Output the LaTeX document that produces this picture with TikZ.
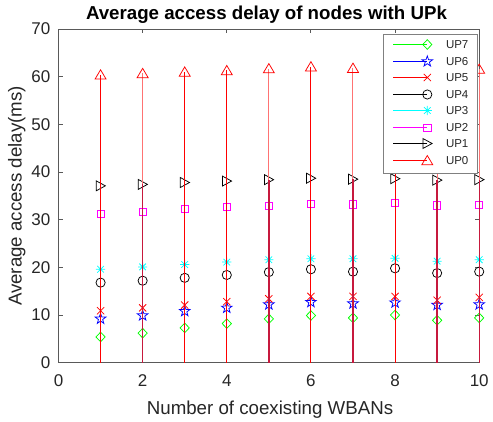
\documentclass[tikz,border=0pt]{standalone}
\usepackage{fontspec}
\setmainfont{Liberation Sans}
\definecolor{colUPseven}{rgb}{0,1,0}
\definecolor{colUPsix}{rgb}{0,0,1}
\definecolor{colUPfive}{rgb}{1,0,0}
\definecolor{colUPfour}{rgb}{0,0,0}
\definecolor{colUPthree}{rgb}{0,1,1}
\definecolor{colUPtwo}{rgb}{1,0,1}
\definecolor{colUPone}{rgb}{0,0,0}
\definecolor{colUPzero}{rgb}{1,0,0}
\definecolor{axc}{rgb}{0.15,0.15,0.15}
\definecolor{axl}{rgb}{0.35,0.35,0.35}
\definecolor{darkstem}{rgb}{0.78,0.1,0.24}
\definecolor{lightstem}{rgb}{1,0.45,0.45}
\definecolor{legedge}{rgb}{0.5,0.5,0.5}
\tikzset{
  stem/.style={line width=1pt},
  mk/.style={line width=0.75pt},
  axline/.style={axl, line width=0.9pt},
  ticklab/.style={axc, inner sep=0pt, font=\fontsize{17}{17}\selectfont},
  leglab/.style={axc, inner sep=0pt, anchor=west, font=\fontsize{11.5}{12}\selectfont},
  pics/m7/.style={code={\draw[mk,draw=colUPseven] (0pt,4.8pt)--(4.6pt,0pt)--(0pt,-4.8pt)--(-4.6pt,0pt)--cycle;}},
  pics/m6/.style={code={\draw[mk,draw=colUPsix,line join=miter] (90:5.6pt)--(126:2.2pt)--(162:5.6pt)--(198:2.2pt)--(234:5.6pt)--(270:2.2pt)--(306:5.6pt)--(342:2.2pt)--(18:5.6pt)--(54:2.2pt)--cycle;}},
  pics/m5/.style={code={\draw[mk,draw=colUPfive] (-3.6pt,-3.6pt)--(3.6pt,3.6pt) (-3.6pt,3.6pt)--(3.6pt,-3.6pt);}},
  pics/m4/.style={code={\draw[mk,draw=colUPfour] (0pt,0pt) circle[radius=4.6pt];}},
  pics/m3/.style={code={\draw[mk,draw=colUPthree] (-4.6pt,0pt)--(4.6pt,0pt) (0pt,-4.6pt)--(0pt,4.6pt) (-3.3pt,-3.3pt)--(3.3pt,3.3pt) (-3.3pt,3.3pt)--(3.3pt,-3.3pt);}},
  pics/m2/.style={code={\draw[mk,draw=colUPtwo] (-3.6pt,-3.6pt) rectangle (3.6pt,3.6pt);}},
  pics/m1/.style={code={\draw[mk,draw=colUPone] (-4.4pt,5pt)--(4.8pt,0pt)--(-4.4pt,-5pt)--cycle;}},
  pics/m0/.style={code={\draw[mk,draw=colUPzero] (-5.5pt,-4.3pt)--(5.5pt,-4.3pt)--(0pt,5pt)--cycle;}},
}
\begin{document}
\begin{tikzpicture}[x=1pt,y=1pt]
\useasboundingbox (0,0) rectangle (493,421);
\fill[white] (0,0) rectangle (493,421);
\begin{scope}[shift={(58.5pt,58.3pt)}, x=42.07pt, y=4.767pt]
  % axes box and ticks
  \draw[axline] (0,0) rectangle (10,70);
  \foreach \xx in {0,2,...,10} {
    \draw[axline] (\xx,0) -- ++(0,4.2pt);
    \draw[axline] (\xx,70) -- ++(0,-4.2pt);
    \node[ticklab, anchor=base] at ([yshift=-24pt]\xx,0) {\xx};
  }
  \foreach \yy in {0,10,...,70} {
    \draw[axline] (0,\yy) -- ++(4.2pt,0);
    \draw[axline] (10,\yy) -- ++(-4.2pt,0);
    \node[ticklab, anchor=east] at ([xshift=-8pt]0,\yy) {\yy};
  }
  % markers of the lower series
  \foreach \v [count=\i] in {5.4,6.2,7.3,8.2,9.2,9.9,9.4,10.0,8.9,9.4}
    {\pic at (\i,\v) {m7};}
  \foreach \v [count=\i] in {9.2,9.9,10.8,11.5,12.2,12.7,12.4,12.6,12.1,12.2}
    {\pic at (\i,\v) {m6};}
  \foreach \v [count=\i] in {10.9,11.5,12.1,12.8,13.4,13.9,13.9,13.9,13.1,13.7}
    {\pic at (\i,\v) {m5};}
  \foreach \v [count=\i] in {16.8,17.2,17.8,18.4,19.0,19.6,19.1,19.8,18.8,19.1}
    {\pic at (\i,\v) {m4};}
  \foreach \v [count=\i] in {19.6,20.1,20.6,21.1,21.6,21.8,21.8,21.9,21.3,21.6}
    {\pic at (\i,\v) {m3};}
  \foreach \v [count=\i] in {31.3,31.7,32.2,32.7,32.9,33.4,33.2,33.5,33.0,33.1}
    {\pic at (\i,\v) {m2};}
  \foreach \v [count=\i] in {37.1,37.4,37.8,38.1,38.4,38.7,38.5,38.6,38.3,38.4}
    {\pic at (\i,\v) {m1};}
  % stems (the UP0 stems hide all the others)
  \foreach \i/\v in {1/60.4,3/61.0,4/61.3,6/62.1,8/61.9}
    {\draw[stem,draw=colUPzero] (\i,0)--(\i,\v);}
  \foreach \i/\w/\v in {2/37.4/60.7,5/38.4/61.7,7/38.5/61.8,9/38.3/61.7,10/38.4/61.6}
    {\draw[stem,draw=lightstem] (\i,\w)--(\i,\v);
     \draw[line width=1.3pt,draw=darkstem] (\i,0)--(\i,\w);}
  % UP0 markers
  \foreach \v [count=\i] in {60.4,60.7,61.0,61.3,61.7,62.1,61.8,61.9,61.7,61.6}
    {\pic at (\i,\v) {m0};}
\end{scope}
% legend
\draw[fill=white, draw=legedge, line width=0.8pt] (383.3,387) rectangle (477.3,247.7);
\foreach \k/\nm/\yy in {7/seven/376.5,6/six/359.5,5/five/343.5,4/four/326.5,3/three/310.5,2/two/293.5,1/one/277.5,0/zero/260.5} {
  \draw[line width=1pt,draw=colUP\nm] (393.3,\yy) -- (427.3,\yy);
  \pic at (427.3,\yy) {m\k};
  \node[leglab] at (445.8,\yy) {UP\k};
}
% labels
\node[axc, inner sep=0pt, anchor=base, font=\fontsize{18.7}{20}\selectfont] at (270,7) {Number of coexisting WBANs};
\node[axc, inner sep=0pt, anchor=base, rotate=90, font=\fontsize{18.7}{20}\selectfont] at (21.5,225) {Average access delay(ms)};
\node[inner sep=0pt, anchor=base, font=\bfseries\fontsize{18.7}{20}\selectfont] at (266.5,401.5) {Average access delay of nodes with UPk};
\end{tikzpicture}
\end{document}
